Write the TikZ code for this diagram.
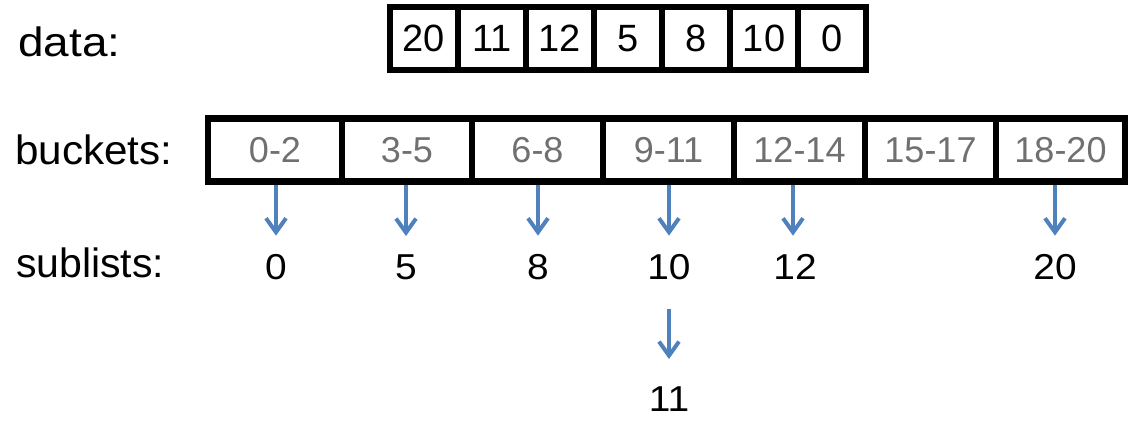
\documentclass[tikz,border=0pt]{standalone}
\usepackage{fontspec}
\setmainfont{Liberation Sans}
\usetikzlibrary{arrows.meta}
\definecolor{arrblue}{HTML}{4F81BD}
\definecolor{rangegray}{HTML}{707070}
\newcommand\myfsz[1]{\fontsize{#1}{#1}\selectfont}
\begin{document}
\begin{tikzpicture}[x=1pt,y=-1pt,
  cell/.style={draw=black, line width=6pt, fill=white, inner sep=0pt,
    minimum height=63pt, minimum width=68pt, font=\myfsz{38}},
  bcell/.style={draw=black, line width=6.5pt, fill=white, inner sep=0pt,
    minimum height=63pt, font=\myfsz{36}, text=rangegray},
  lbl/.style={anchor=base west, inner sep=0pt, font=\myfsz{41}},
  num/.style={anchor=base, inner sep=0pt, font=\myfsz{36}},
  arr/.style={draw=arrblue, line width=4pt,
    -{Straight Barb[length=14pt,width=20pt]}}
]
\useasboundingbox (0,0) rectangle (1136,427);

% labels
\node[lbl] (ldata) at (18,57) {\scalebox{1.12}[1]{data:}};
\node[lbl] (lbuckets) at (15,165) {\scalebox{1.03}[1]{buckets:}};
\node[lbl] (lsublists) at (16,278) {sublists:};

% data array
\foreach \v [count=\i] in {20,11,12,5,8,10,0}
  \node[cell] (d\i) at ({390+68*(\i-0.5)},38.5) {\v};

% buckets
\node[bcell, minimum width=134pt] (b1) at (275,150) {0-2};
\node[bcell, minimum width=130pt] (b2) at (407,150) {3-5};
\node[bcell, minimum width=131pt] (b3) at (537.5,150) {6-8};
\node[bcell, minimum width=131pt] (b4) at (668.5,150) {9-11};
\node[bcell, minimum width=131pt] (b5) at (799.5,150) {12-14};
\node[bcell, minimum width=131pt] (b6) at (930.5,150) {15-17};
\node[bcell, minimum width=129pt] (b7) at (1060.5,150) {18-20};

% sublists
\node[num] (s0) at (276,280) {\scalebox{1.08}[1]{0}};
\node[num] (s5) at (406,280) {\scalebox{1.08}[1]{5}};
\node[num] (s8) at (538,280) {\scalebox{1.08}[1]{8}};
\node[num] (s10) at (669,280) {\scalebox{1.08}[1]{10}};
\node[num] (s12) at (795,280) {\scalebox{1.08}[1]{12}};
\node[num] (s20) at (1055,280) {\scalebox{1.08}[1]{20}};
\node[num] (s11) at (669,412) {\scalebox{1.08}[1]{11}};

% arrows
\draw[arr, shorten >=19pt] (b1.south -| s0.north) -- (s0.north);
\draw[arr, shorten >=19pt] (b2.south -| s5.north) -- (s5.north);
\draw[arr, shorten >=19pt] (b3.south -| s8.north) -- (s8.north);
\draw[arr, shorten >=19pt] (b4.south -| s10.north) -- (s10.north);
\draw[arr, shorten >=19pt] ([xshift=-2pt]b5.south -| s12.north) -- ([xshift=-2pt]s12.north);
\draw[arr, shorten >=19pt] (b7.south -| s20.north) -- (s20.north);
\draw[arr, shorten <=28pt, shorten >=28pt] (s10.south) -- (s11.north);
\end{tikzpicture}
\end{document}
